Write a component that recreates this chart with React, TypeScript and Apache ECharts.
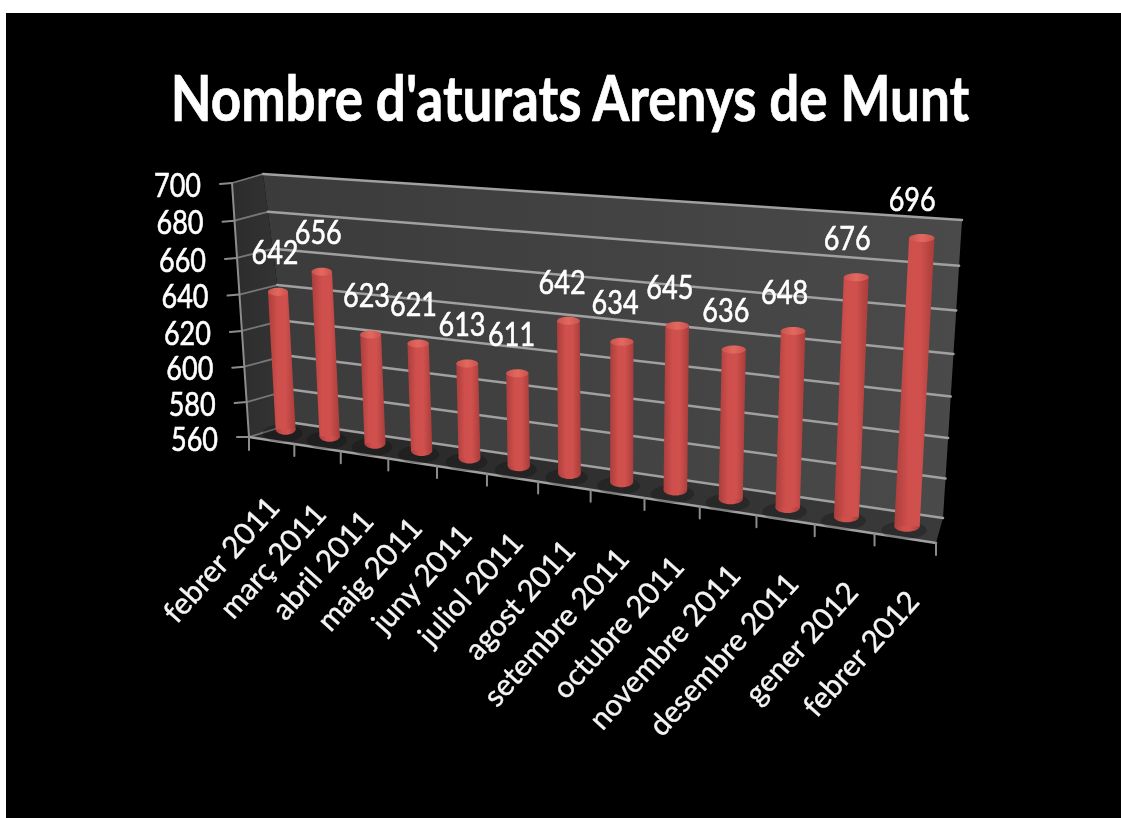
import React, { useEffect, useRef } from "react";
import * as echarts from "echarts";

const titleText = "Nombre d'aturats Arenys de Munt";
const categories = ["febrer 2011","març 2011","abril 2011","maig 2011","juny 2011","juliol 2011","agost 2011","setembre 2011","octubre 2011","novembre 2011","desembre 2011","gener 2012","febrer 2012"];
const values = [642,656,623,621,613,611,642,634,645,636,648,676,696];
const yTicks = [560,580,600,620,640,660,680,700];
const yMin = 560;
const yMax = 700;

// Logical plotting rectangle: the library's scales map data into it, then a perspective projection
const G = { left: 200, top: 200, width: 700, height: 280 };

type P = [number, number];
function homography(bl: P, br: P, tr: P, tl: P, warp: number) {
  const [x0,y0]=bl,[x1,y1]=br,[x2,y2]=tr,[x3,y3]=tl;
  const dx1=x1-x2,dx2=x3-x2,sx=x0-x1+x2-x3,dy1=y1-y2,dy2=y3-y2,sy=y0-y1+y2-y3;
  const den=dx1*dy2-dx2*dy1;
  const g=(sx*dy2-dx2*sy)/den,h=(dx1*sy-sx*dy1)/den;
  const a=x1-x0+g*x1,b=x3-x0+h*x3,c=x0,d=y1-y0+g*y1,e=y3-y0+h*y3,f=y0;
  return (u0:number,v:number):P=>{
    const u=u0+warp*u0*(1-u0);
    const w=g*u+h*v+1;
    return [(a*u+b*v+c)/w,(d*u+e*v+f)/w];
  };
}
const backPlane = homography([295,423],[943,518],[962,220],[263,174],0);
const midPlane = homography([264,426],[938,531],[955,231],[250,189],0.055);
const frontPlane = homography([249,437],[936,543],[953,241],[232,183],0.018);

const toUV = (p:number[]):P => [(p[0]-G.left)/G.width,(G.top+G.height-p[1])/G.height];
const FONT = "Lato, 'Open Sans', sans-serif";
const GRID_COLOR = "#a0a0a0";
const AXIS_COLOR = "#8c8c8c";

const line = (a:P,b:P,stroke:string,lineWidth:number)=>({
  type:"line",shape:{x1:a[0],y1:a[1],x2:b[0],y2:b[1]},style:{stroke,lineWidth,lineCap:"round"},
});
const poly = (points:P[],fill:any)=>({type:"polygon",shape:{points},style:{fill}});

function renderWalls(){
  const bl=backPlane(0,0),br=backPlane(1,0),tr=backPlane(1,1),tl=backPlane(0,1);
  const fb=frontPlane(0,0),fr=frontPlane(1,0),ft=frontPlane(0,1);
  const grad=(x:number,y:number,x2:number,y2:number,a:string,b:string)=>
    new echarts.graphic.LinearGradient(x,y,x2,y2,[{offset:0,color:a},{offset:1,color:b}]);
  return {type:"group",children:[
    poly([bl,br,tr,tl],grad(0,0,1,0,"#3b3b3b","#4a4a4a")),
    poly([fb,bl,tl,ft],grad(0,0,1,0,"#2c2c2c","#363636")),
    poly([fb,fr,br,bl],grad(0,0,1,0,"#262626","#3a3a3a")),
  ]};
}

function renderGrid(_:any,api:any){
  const [,v]=toUV(api.coord([0,api.value(1)]));
  const f=frontPlane(0,v),b=backPlane(0,v),e=backPlane(1,v);
  return {type:"group",children:[
    line([f[0]-12,f[1]+(v===0?0:1)],f,AXIS_COLOR,2),
    line(f,b,"#777777",1.8),
    line(b,e,GRID_COLOR,2.5),
  ]};
}

function renderYLabel(_:any,api:any){
  const val=api.value(1);
  const [,v]=toUV(api.coord([0,val]));
  const f=frontPlane(0,v);
  return {type:"text",x:f[0]-31,y:f[1]+1,scaleY:1.25,style:{
    text:String(val),fill:"#ffffff",stroke:"#ffffff",lineWidth:0.5,fontFamily:FONT,fontSize:27,align:"right",verticalAlign:"middle"}};
}

function renderAxisFrame(){
  const a=frontPlane(0,1),b=frontPlane(0,0),c=frontPlane(1,0);
  return {type:"group",children:[line(a,b,AXIS_COLOR,2),line(b,c,"#a0a0a0",2.5),line(b,[b[0],b[1]+13],AXIS_COLOR,2)]};
}

function renderXTick(_:any,api:any){
  const i=api.value(0);
  const center=api.coord([i,yMin]);
  const band=G.width/categories.length;
  const [u]=toUV([center[0]+band/2,center[1]]);
  const p=frontPlane(u,0);
  return line(p,[p[0],p[1]+12],AXIS_COLOR,2);
}

function renderXLabel(params:any,api:any){
  const i=api.value(0);
  const [u]=toUV(api.coord([i,yMin]));
  const p=frontPlane(u,0);
  return {type:"text",x:p[0]+1+0.5*i,y:p[1]+60-0.3*i,rotation:Math.PI*48/180,style:{
    text:categories[params.dataIndex],fill:"#f4f4f4",stroke:"#f4f4f4",lineWidth:0.4,fontFamily:FONT,fontSize:30,align:"right",verticalAlign:"middle"}};
}

function renderBar(_:any,api:any){
  const i=api.value(0),val=api.value(1);
  const topC=api.coord([i,val]);
  const [uC,vT]=toUV(topC);
  const half=10+2.7*i/(categories.length-1);
  const tC=midPlane(uC,vT),bC=midPlane(uC,0);
  // edges follow the slope of the bottom edge of the plotting plane
  const slope=(midPlane(1,0)[1]-midPlane(0,0)[1])/(midPlane(1,0)[0]-midPlane(0,0)[0]);
  const tL:P=[tC[0]-half,tC[1]],tR:P=[tC[0]+half,tC[1]];
  const bL:P=[bC[0]-half,bC[1]],bR:P=[bC[0]+half,bC[1]];
  const body=new echarts.graphic.LinearGradient(0,0,1,0,[
    {offset:0,color:"#ab3e3c"},{offset:0.35,color:"#cf4f4c"},{offset:0.65,color:"#cf504d"},{offset:1,color:"#a83c3a"},
  ]);
  const cap=new echarts.graphic.LinearGradient(0,0,1,0,[
    {offset:0,color:"#cc524e"},{offset:0.5,color:"#e2695f"},{offset:1,color:"#cc524e"},
  ]);
  return {type:"group",rotation:0,children:[
    {type:"ellipse",shape:{cx:bC[0]-3,cy:bC[1]+4+slope*0,rx:half+10,ry:9},style:{fill:"rgba(0,0,0,0.22)"}},
    {type:"ellipse",shape:{cx:bC[0],cy:bC[1],rx:half,ry:5.5},style:{fill:body}},
    poly([tL,tR,bR,bL],body),
    {type:"ellipse",shape:{cx:tC[0],cy:tC[1],rx:half,ry:4},style:{fill:cap}},
  ]};
}

function renderValueLabel(params:any,api:any){
  const i=api.value(0),val=api.value(1);
  const [u,v]=toUV(api.coord([i,val]));
  const p=midPlane(u,v);
  return {type:"text",x:p[0]-3-0.55*i,y:p[1]-40,scaleY:1.25,style:{
    text:String(val),fill:"#ffffff",stroke:"#ffffff",lineWidth:0.5,fontFamily:FONT,fontSize:27,align:"center",verticalAlign:"middle"}};
}

const custom=(name:string,renderItem:any,data:any[],z:number)=>({
  type:"custom",name,coordinateSystem:"cartesian2d",renderItem,data,z,silent:true,clip:false,
  encode:{x:0,y:1},
});

export default function App(){
  const ref=useRef<HTMLDivElement>(null);
  useEffect(()=>{
    document.body.style.margin="0";
    document.body.style.background="#ffffff";
    document.body.style.overflow="hidden";
    const chart=echarts.init(ref.current!,undefined,{renderer:"svg"});
    const barData=values.map((v,i)=>[i,v]);
    const tickData=yTicks.map(v=>[0,v]);
    const catData=categories.map((_,i)=>[i,yMin]);
    chart.setOption({
      animation:false,
      backgroundColor:"transparent",
      grid:{left:G.left,top:G.top,width:G.width,height:G.height},
      xAxis:{type:"category",data:categories,show:false},
      yAxis:{type:"value",min:yMin,max:yMax,interval:20,show:false},
      graphic:[{type:"text",x:570,y:96,scaleY:1.2,style:{
        text:titleText,fill:"#ffffff",stroke:"#ffffff",lineWidth:0.6,fontFamily:FONT,fontWeight:"bold",fontSize:53,align:"center",verticalAlign:"middle"}}],
      series:[
        custom("walls",renderWalls,[[0,yMin]],1),
        custom("grid",renderGrid,tickData,2),
        custom("frame",renderAxisFrame,[[0,yMin]],3),
        custom("xticks",renderXTick,catData,3),
        custom("bars",renderBar,barData,4),
        custom("ylabels",renderYLabel,tickData,5),
        custom("xlabels",renderXLabel,catData,5),
        custom("values",renderValueLabel,barData,6),
      ],
    });
    return ()=>chart.dispose();
  },[]);
  return (
    <div style={{position:"fixed",left:6,top:13,right:0,bottom:0,background:"#000",overflow:"hidden"}}>
      <div ref={ref} style={{position:"absolute",left:-6,top:-13,width:1121,height:818,filter:"blur(0.7px)"}}/>
    </div>
  );
}
